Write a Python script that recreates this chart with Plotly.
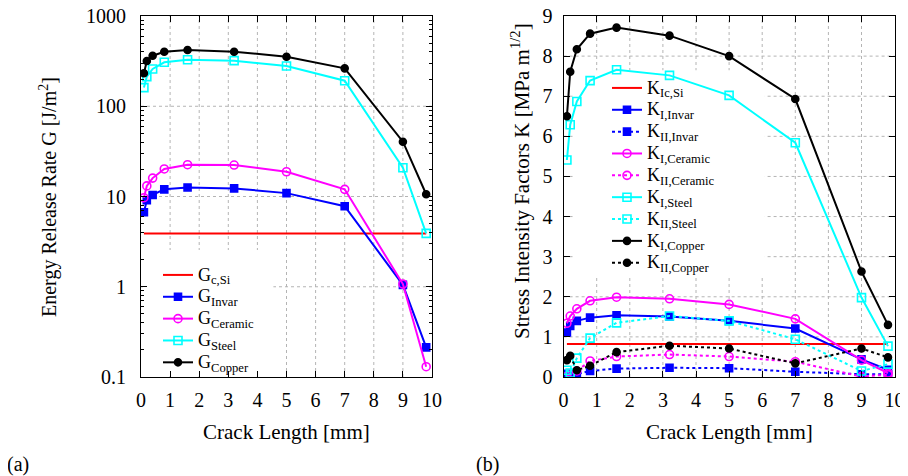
import plotly.graph_objects as go

# ---------------- data ----------------
crack_length = [0.1, 0.2, 0.4, 0.8, 1.6, 3.2, 5.0, 7.0, 9.0, 9.8]
crack_line = [0.1, 9.8]

G_c_Si = [3.9, 3.9]
G_invar = [6.7, 9.1, 10.4, 12.0, 12.6, 12.3, 10.9, 7.8, 1.05, 0.213]
G_ceramic = [9.7, 13.1, 16.0, 20.2, 22.5, 22.3, 18.8, 12.0, 1.07, 0.13]
G_steel = [161, 213, 259, 307, 328, 320, 279, 192, 20.8, 3.9]
G_copper = [232, 317, 363, 402, 420, 402, 354, 263, 40.5, 10.6]

K_Ic_Si = [0.82, 0.82]
K_I_invar = [1.11, 1.27, 1.40, 1.48, 1.54, 1.51, 1.40, 1.21, 0.44, 0.18]
K_II_invar = [0.08, 0.06, 0.07, 0.15, 0.21, 0.23, 0.22, 0.13, 0.07, 0.07]
K_I_ceramic = [1.34, 1.52, 1.70, 1.90, 1.99, 1.95, 1.81, 1.45, 0.42, 0.10]
K_II_ceramic = [0.02, 0.05, 0.15, 0.40, 0.51, 0.56, 0.51, 0.38, 0.01, 0.06]
K_I_steel = [5.41, 6.29, 6.87, 7.39, 7.66, 7.52, 7.02, 5.84, 1.98, 0.77]
K_II_steel = [0.17, 0.10, 0.47, 0.97, 1.35, 1.52, 1.40, 0.94, 0.15, 0.32]
K_I_copper = [6.50, 7.61, 8.17, 8.56, 8.71, 8.51, 8.00, 6.93, 2.63, 1.30]
K_II_copper = [0.42, 0.53, 0.17, 0.28, 0.62, 0.78, 0.71, 0.34, 0.71, 0.49]

x_ticks = list(range(0, 11))
G_ticks = [0.1, 1, 10, 100, 1000]
G_ticktext = ["0.1", "1", "10", "100", "1000"]
G_minor = [m * d for d in (0.1, 1, 10, 100) for m in range(2, 10)]
K_ticks = list(range(0, 10))

# ---------------- style ----------------
FONT = "Liberation Serif, Times New Roman, serif"
RED, BLUE, MAG, CYAN, BLACK = "#ff0000", "#0000ff", "#ff00ff", "#00ffff", "#000000"
GRID = "#b4b4b4"
LW = 2

fig = go.Figure()

def lname(main, sub):
    return ('<span style="font-size:18px">%s<sub>%s</sub></span>' % (main, sub))

def add(x, y, name, color, symbol, size, dash, xa, ya, legend, mode="lines+markers"):
    kw = {}
    if mode != "lines":
        kw["marker"] = dict(symbol=symbol, size=size, color=color,
                            line=dict(color=color, width=1.6))
    fig.add_trace(go.Scatter(
        x=x, y=y, name=name, mode=mode, xaxis=xa, yaxis=ya, legend=legend,
        line=dict(color=color, width=LW, dash=dash), **kw))

# left panel
add(crack_line, G_c_Si, lname("G", "c,Si"), RED, None, 0, "solid", "x", "y", "legend", mode="lines")
add(crack_length, G_invar, lname("G", "Invar"), BLUE, "square", 7, "solid", "x", "y", "legend")
add(crack_length, G_ceramic, lname("G", "Ceramic"), MAG, "circle-open", 8, "solid", "x", "y", "legend")
add(crack_length, G_steel, lname("G", "Steel"), CYAN, "square-open", 8, "solid", "x", "y", "legend")
add(crack_length, G_copper, lname("G", "Copper"), BLACK, "circle", 7, "solid", "x", "y", "legend")

# right panel
add(crack_line, K_Ic_Si, lname("K", "Ic,Si"), RED, None, 0, "solid", "x2", "y2", "legend2", mode="lines")
add(crack_length, K_I_invar, lname("K", "I,Invar"), BLUE, "square", 7, "solid", "x2", "y2", "legend2")
add(crack_length, K_II_invar, lname("K", "II,Invar"), BLUE, "square", 7, "dot", "x2", "y2", "legend2")
add(crack_length, K_I_ceramic, lname("K", "I,Ceramic"), MAG, "circle-open", 8, "solid", "x2", "y2", "legend2")
add(crack_length, K_II_ceramic, lname("K", "II,Ceramic"), MAG, "circle-open", 8, "dot", "x2", "y2", "legend2")
add(crack_length, K_I_steel, lname("K", "I,Steel"), CYAN, "square-open", 8, "solid", "x2", "y2", "legend2")
add(crack_length, K_II_steel, lname("K", "II,Steel"), CYAN, "square-open", 8, "dot", "x2", "y2", "legend2")
add(crack_length, K_I_copper, lname("K", "I,Copper"), BLACK, "circle", 7, "solid", "x2", "y2", "legend2")
add(crack_length, K_II_copper, lname("K", "II,Copper"), BLACK, "circle", 7, "dot", "x2", "y2", "legend2")

# the page body has an 8px margin: lay out in window pixels minus that offset
OFF = 8
W, H = 900, 468
def px(x): return (x - OFF) / W
def py(y): return 1 - (y - OFF) / H

tickfont = dict(family=FONT, size=20, color="black")
common = dict(showline=True, linecolor="black", linewidth=1, mirror="ticks",
              ticks="inside", ticklen=6, tickcolor="black", tickwidth=1,
              showgrid=False, zeroline=False, tickfont=tickfont, automargin=False,
              ticklabeloverflow="allow")

xcommon = dict(common, range=[0, 10], tickmode="array", tickvals=x_ticks,
               ticktext=[str(v) for v in x_ticks], ticklabelstandoff=5)

legend_font = dict(family=FONT, size=14.5, color="black")
CLEAR = "rgba(255,255,255,0)"

fig.update_layout(
    width=W, height=H, margin=dict(l=0, r=0, t=0, b=0),
    paper_bgcolor="white", plot_bgcolor="white",
    font=dict(family=FONT, size=20, color="black"),
    xaxis=dict(xcommon, domain=[px(141), px(432)], anchor="y"),
    yaxis=dict(common, type="log", range=[-1, 3], domain=[py(377), py(16)], anchor="x",
               tickmode="array", tickvals=G_ticks, ticktext=G_ticktext,
               ticklabelstandoff=10,
               minor=dict(ticks="inside", ticklen=3, tickcolor="black",
                          tickvals=G_minor, showgrid=False)),
    xaxis2=dict(xcommon, domain=[px(563.6), px(894.6)], anchor="y2"),
    yaxis2=dict(common, range=[0, 9], domain=[py(377), py(16)], anchor="x2",
                tickmode="array", tickvals=K_ticks, ticktext=[str(v) for v in K_ticks],
                ticklabelstandoff=6),
    legend=dict(x=px(158), y=py(259), xanchor="left", yanchor="top",
                bgcolor=CLEAR, borderwidth=0, tracegroupgap=0, font=legend_font),
    legend2=dict(x=px(607), y=py(72), xanchor="left", yanchor="top",
                 bgcolor=CLEAR, borderwidth=0, tracegroupgap=0, font=legend_font),
    showlegend=True,
)

# dotted grid at the inner major ticks (drawn beneath the data)
grid_line = dict(color=GRID, width=1, dash="dot")
for xa, ya, yvals in (("x", "y", G_ticks[1:-1]), ("x2", "y2", K_ticks[1:-1])):
    for v in x_ticks[1:-1]:
        fig.add_shape(type="line", xref=xa, yref=ya + " domain", x0=v, x1=v, y0=0, y1=1,
                      line=grid_line, layer="below")
    for v in yvals:
        fig.add_shape(type="line", xref=xa + " domain", yref=ya, x0=0, x1=1, y0=v, y1=v,
                      line=grid_line, layer="below")

# opaque key areas: hide the grid behind the legends, but not the data
fig.add_shape(type="rect", xref="x domain", yref="y domain", x0=0.007, x1=0.455,
              y0=0.003, y1=0.352, fillcolor="white", line_width=0, layer="below")
fig.add_shape(type="rect", xref="x2 domain", yref="y2 domain", x0=0.028, x1=0.608,
              y0=0.274, y1=0.850, fillcolor="white", line_width=0, layer="below")

ann_font = dict(family=FONT, size=20, color="black")
def note(text, x, y, angle=0, size=20):
    fig.add_annotation(text=text, x=px(x), y=py(y), xref="paper", yref="paper",
                       showarrow=False, font=dict(ann_font, size=size), textangle=angle,
                       xanchor="center", yanchor="middle")

note("Crack Length [mm]", 286.5, 432, size=21)
note("Crack Length [mm]", 729, 432, size=21)
note("Energy Release Rate G [J/m<sup>2</sup>]", 48, 197, angle=-90)
note("Stress Intensity Factors K [MPa m<sup>1/2</sup>]", 520, 181, angle=-90, size=21)
note("(a)", 18, 464)
note("(b)", 487, 464)

fig.write_html("out.html")
